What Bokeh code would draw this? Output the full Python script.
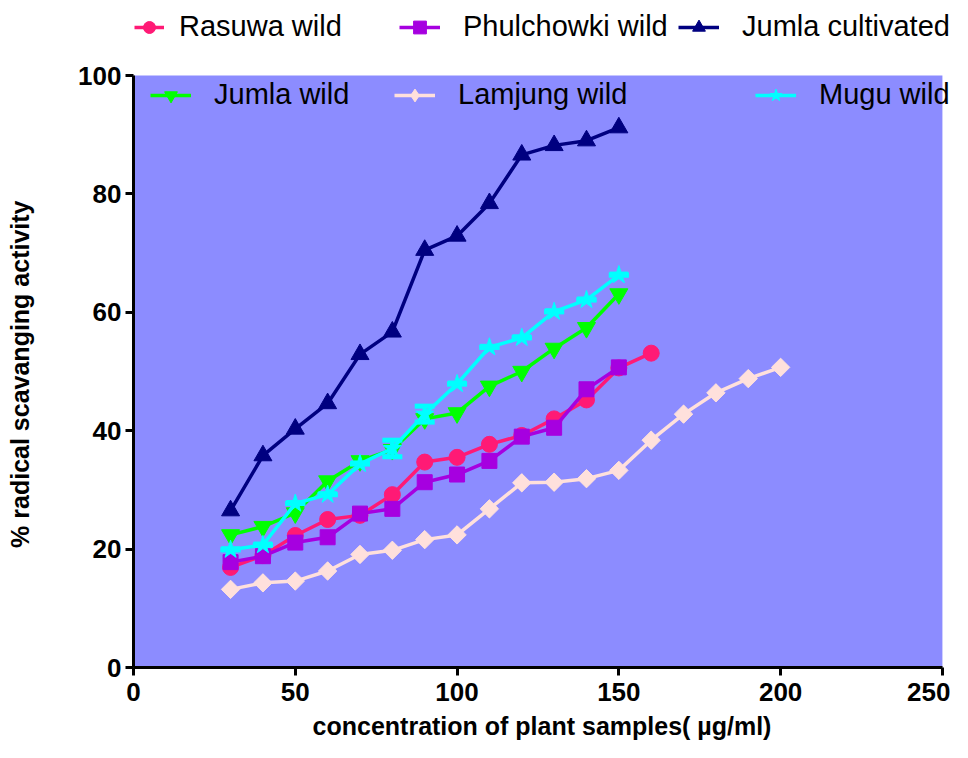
from bokeh.plotting import figure
from bokeh.models import (ColumnDataSource, Legend, LegendItem, FixedTicker,
                          Whisker, TeeHead, BoxAnnotation)
from bokeh.embed import file_html
from bokeh.resources import INLINE
import math

# ---------------- data ----------------
conc_13 = [30, 40, 50, 60, 70, 80, 90, 100, 110, 120, 130, 140, 150]
conc_14 = [30, 40, 50, 60, 70, 80, 90, 100, 110, 120, 130, 140, 150, 160]
conc_18 = [30, 40, 50, 60, 70, 80, 90, 100, 110, 120, 130, 140, 150, 160,
           170, 180, 190, 200]

rasuwa_wild = [16.9, 18.9, 22.3, 25.0, 25.7, 29.2, 34.7, 35.5, 37.7, 39.2,
               42.0, 45.2, 50.6, 53.1]
phulchowki_wild = [17.8, 18.8, 21.1, 22.0, 26.0, 26.8, 31.3, 32.6, 34.9,
                   39.0, 40.5, 47.0, 50.7]
jumla_cultivated = [26.5, 35.8, 40.3, 44.6, 52.9, 56.7, 70.5, 72.9, 78.4,
                    86.6, 88.2, 89.0, 91.2]
jumla_wild = [22.4, 23.8, 26.1, 31.5, 34.9, 36.8, 42.0, 43.0, 47.5, 50.0,
              53.9, 57.4, 63.1]
lamjung_wild = [13.2, 14.3, 14.6, 16.3, 19.1, 19.8, 21.6, 22.4, 26.8, 31.2,
                31.3, 31.9, 33.3, 38.4, 42.8, 46.4, 48.8, 50.7]
mugu_wild = [19.9, 20.7, 27.7, 29.2, 34.4, 37.0, 42.8, 47.9, 54.1, 55.7,
             60.1, 62.1, 66.3]
mugu_err = [0, 0, 0, 0, 0, 1.4, 1.35, 0, 0, 0, 0, 0, 0]

x_ticks = [0, 50, 100, 150, 200, 250]
y_ticks = [0, 20, 40, 60, 80, 100]
x_axis_max = 250
y_axis_max = 100

# ---------------- figure ----------------
# frame extends a little past the axes so that the legend rows can sit
# above / beside the coloured plotting area without being clipped
p = figure(width=950, height=742, x_range=(0, 252.5), y_range=(0, 112),
           output_backend="svg", toolbar_location=None,
           min_border_left=133, min_border_right=0,
           min_border_top=4, min_border_bottom=0)
p.background_fill_color = "white"
p.border_fill_color = "white"
p.outline_line_color = None
p.grid.visible = False

p.add_layout(BoxAnnotation(left=0, right=x_axis_max, bottom=0, top=y_axis_max,
                           fill_color="#8C8CFF", fill_alpha=1.0,
                           line_color=None, level="underlay"))

for ax in (p.xaxis[0], p.yaxis[0]):
    ax.axis_line_width = 3
    ax.axis_line_color = "black"
    ax.major_tick_line_width = 3
    ax.major_tick_line_color = "black"
    ax.major_tick_out = 8
    ax.major_tick_in = 0
    ax.minor_tick_line_color = None
    ax.major_label_text_font = "Liberation Sans"
    ax.major_label_text_font_style = "bold"
    ax.major_label_text_font_size = "26px"
    ax.major_label_text_color = "black"
    ax.axis_label_text_font = "Liberation Sans"
    ax.axis_label_text_font_style = "bold"
    ax.axis_label_text_font_size = "25px"
    ax.axis_label_text_color = "black"

p.xaxis.bounds = (0, x_axis_max)
p.yaxis.bounds = (0, y_axis_max)
p.xaxis.ticker = FixedTicker(ticks=x_ticks)
p.yaxis.ticker = FixedTicker(ticks=y_ticks)
p.xaxis.major_label_standoff = 7
p.yaxis.major_label_standoff = 4
p.xaxis.axis_label = "concentration of plant samples( µg/ml)"
# trailing no-break spaces move the centred label down to the middle of the
# 0-100 axis (the frame itself extends higher to hold the legend)
p.yaxis.axis_label = "% radical scavanging activity" + "\u00a0" * 11
p.xaxis.axis_label_standoff = 8
p.yaxis.axis_label_standoff = 41

series = [
    ("Rasuwa wild", conc_14, rasuwa_wild, "#FF1A75", "circle", 16, 0),
    ("Phulchowki wild", conc_13, phulchowki_wild, "#A600E0", "square", 15, 0),
    ("Jumla cultivated", conc_13, jumla_cultivated, "#000080", "triangle", 18, 0),
    ("Jumla wild", conc_13, jumla_wild, "#00FF00", "inverted_triangle", 18, 0),
    ("Lamjung wild", conc_18, lamjung_wild, "#FFE0DC", "square", 13, math.pi / 4),
    ("Mugu wild", conc_13, mugu_wild, "#00FFFF", "star", 19, 0),
]

renderers = {}
for name, xs, ys, color, marker, size, angle in series:
    src = ColumnDataSource(dict(x=xs, y=ys))
    if name == "Mugu wild":
        esrc = ColumnDataSource(dict(
            base=xs,
            upper=[v + e for v, e in zip(ys, mugu_err)],
            lower=[v - e for v, e in zip(ys, mugu_err)]))
        w = Whisker(source=esrc, base="base", upper="upper", lower="lower",
                    line_color=color, line_width=4, level="glyph",
                    upper_head=TeeHead(size=20, line_color=color, line_width=5),
                    lower_head=TeeHead(size=20, line_color=color, line_width=5))
        p.add_layout(w)
    l = p.line("x", "y", source=src, line_color=color, line_width=3.5)
    key = None
    if angle:
        # the legend does not rotate markers: a diamond glyph (hidden under
        # the rotated squares) provides the legend key
        key = p.scatter("x", "y", source=src, marker="diamond", size=17,
                        fill_color=color, line_color=color)
    s = p.scatter("x", "y", source=src, marker=marker, size=size, angle=angle,
                  fill_color=color, line_color=color)
    renderers[name] = [l, key if key is not None else s]

# ---------------- legend (two rows, individual placement) ----------------
# (x offset from frame left, y offset from frame bottom, glyph width, standoff)
legend_pos = {
    "Rasuwa wild": (1, 624, 30, 15),
    "Phulchowki wild": (266, 624, 41, 23),
    "Jumla cultivated": (545, 624, 41, 23),
    "Jumla wild": (17, 556, 41, 23),
    "Lamjung wild": (261, 556, 41, 23),
    "Mugu wild": (622, 556, 41, 23),
}
for name, (lx, ly, gw, st) in legend_pos.items():
    lg = Legend(items=[LegendItem(label=name, renderers=renderers[name])],
                location=(lx, ly), orientation="horizontal",
                padding=0, margin=0, spacing=0,
                border_line_color=None, background_fill_alpha=0,
                glyph_width=gw, glyph_height=32, label_standoff=st,
                label_text_font="Liberation Sans", label_text_font_size="29px",
                label_text_color="black")
    p.add_layout(lg, "center")

open("out.html", "w").write(file_html(p, INLINE))
